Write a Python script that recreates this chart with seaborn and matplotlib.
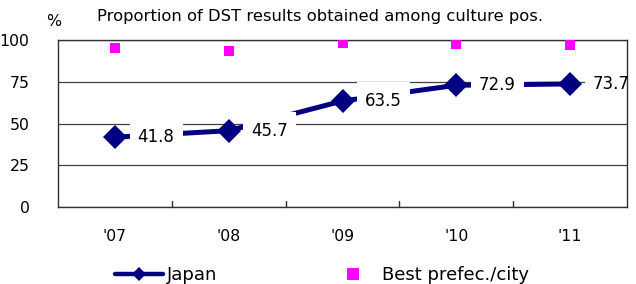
import matplotlib
matplotlib.use("Agg")
from matplotlib import pyplot as plt
from matplotlib.lines import Line2D
from matplotlib.patches import Rectangle
import pandas as pd
import seaborn as sns

years = ["'07", "'08", "'09", "'10", "'11"]
japan = [41.8, 45.7, 63.5, 72.9, 73.7]
best = [95.2, 93.4, 98.5, 97.9, 97.3]
title = "Proportion of DST results obtained among culture pos."

sns.set_style("white")
plt.rcParams['font.family'] = ['DejaVu Sans']
plt.rcParams['text.color'] = 'black'
plt.rcParams['xtick.color'] = 'black'
plt.rcParams['ytick.color'] = 'black'

df = pd.DataFrame({'year': years, 'japan': japan, 'best': best})

fig = plt.figure(figsize=(6.36, 2.84), dpi=100)
ax = fig.add_axes([58 / 636, 1 - 207 / 284, 569 / 636, 167 / 284])

navy = '#000080'
sns.lineplot(ax=ax, data=df, x='year', y='japan', color=navy, linewidth=3.6,
             marker='D', markersize=12.5, markeredgewidth=0, sort=False, zorder=3)
sns.scatterplot(ax=ax, data=df, x='year', y='best', color='#ff00ff', marker='s',
                s=62, linewidth=0, zorder=6)

# white label boxes like the spreadsheet data labels
for i, v in enumerate(japan):
    ax.add_patch(Rectangle((i + 0.13, v - 11.4), 0.465, 22.8, facecolor='white',
                           edgecolor='none', zorder=4, clip_on=False))
    ax.text(i + 0.2, v, f"{v:.1f}", fontsize=12, va='center', ha='left', zorder=5)

ax.set_xlim(-0.5, 4.5)
ax.set_ylim(0, 100)
ax.set_yticks([0, 25, 50, 75, 100])
ax.yaxis.grid(True, color='#404040', linewidth=0.9)
ax.set_axisbelow(True)
ax.tick_params(axis='y', left=False, labelsize=11.3, pad=17)
ax.set_xticks(range(5))
ax.set_xticklabels(years)
ax.tick_params(axis='x', bottom=False, labelsize=11.3, pad=12)
for b in [0.5, 1.5, 2.5, 3.5]:
    ax.plot([b, b], [0, 3.8], color='#303030', linewidth=1.0, clip_on=False)
ax.set_xlabel('')
ax.set_ylabel('')
for pos in ['left', 'bottom', 'right', 'top']:
    ax.spines[pos].set_visible(True)
    ax.spines[pos].set_color('#303030')
    ax.spines[pos].set_linewidth(1.0)
    ax.spines[pos].set_zorder(4.5)

fig.text(54 / 636, 1 - 21 / 284, '%', fontsize=11.4, ha='center', va='center')
fig.text(320 / 636, 1 - 17 / 284, title, fontsize=11.8, ha='center', va='center')

h_japan = Line2D([], [], color=navy, linewidth=3.2, marker='D', markersize=7,
                 markeredgewidth=0)
h_best = Line2D([], [], color='#ff00ff', linestyle='none', marker='s', markersize=8,
                markeredgewidth=0)
fig.legend([h_japan], ['Japan'], loc='center left', bbox_to_anchor=(115 / 636, 1 - 275 / 284),
           frameon=False, fontsize=13, handlelength=2.65, handletextpad=0.2,
           borderpad=0, borderaxespad=0)
fig.legend([h_best], ['Best prefec./city'], loc='center left',
           bbox_to_anchor=(344 / 636, 1 - 275 / 284), frameon=False, fontsize=13,
           handlelength=1.0, handletextpad=1.1, borderpad=0, borderaxespad=0)

fig.savefig('out.png', dpi=100)
